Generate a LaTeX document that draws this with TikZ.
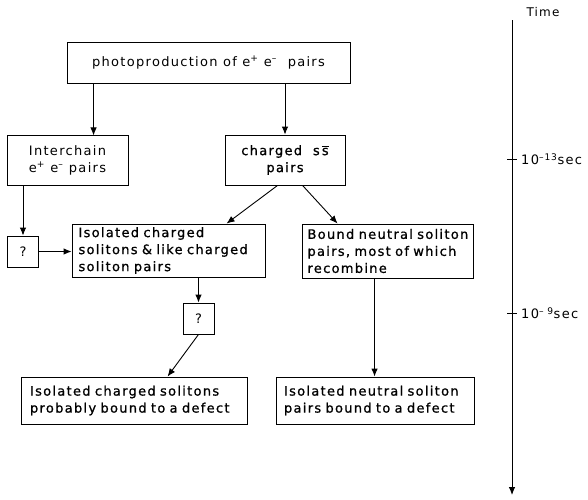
\documentclass[tikz,border=0pt]{standalone}
\usepackage{fontspec}
\setmainfont{DejaVu Sans}[LetterSpace=10]
\newfontfamily\heavy{DejaVu Sans}[LetterSpace=10,FakeBold=0.9]
\usetikzlibrary{arrows.meta,calc}
\begin{document}
\begin{tikzpicture}[x=1pt,y=-1pt,
  box/.style={draw,line width=0.9pt,inner sep=0pt,font=\fontsize{13}{17}\selectfont},
  hbox/.style={box,font=\fontsize{13}{17}\selectfont\heavy},
  qbox/.style={box,minimum width=31pt,minimum height=31pt},
  arr/.style={line width=0.9pt,-{Latex[length=8pt,width=6.5pt]}},
  lab/.style={font=\fontsize{13}{15}\selectfont,inner sep=0pt}]
\useasboundingbox (0,0) rectangle (588,499);
\node[box,minimum width=283pt,minimum height=41pt,align=center] (top) at (208.5,62.5) {photoproduction of e\textsuperscript{+} e\textsuperscript{--}\ \ pairs};
\node[box,minimum width=121pt,minimum height=50pt,align=center] (inter) at (67.5,160) {Interchain\\e\textsuperscript{+} e\textsuperscript{--}\ pairs};
\node[hbox,minimum width=120pt,minimum height=50pt,align=center] (charged) at (285,160) {charged\ \ s\,$\overline{\mbox{s}}$\\pairs};
\node[qbox] (q1) at (23,251.5) {?};
\node[hbox,minimum width=193pt,minimum height=53pt,text width=180pt,align=left] (iso) at (168.5,250.5) {Isolated charged\\solitons \& like charged\\soliton pairs};
\node[hbox,minimum width=171pt,minimum height=54pt,text width=160pt,align=left] (bound) at (387.5,251) {Bound neutral soliton\\pairs, most of which\\recombine};
\node[qbox] (q2) at (198.5,318.5) {?};
\node[hbox,minimum width=226pt,minimum height=47pt,text width=208pt,align=left] (isop) at (134,400.5) {Isolated charged solitons\\probably bound to a defect};
\node[hbox,minimum width=198pt,minimum height=47pt,text width=182pt,align=left] (isn) at (375,400.5) {Isolated neutral soliton\\pairs bound to a defect};
\draw[arr] (top.south -| inter.south west) ++(87,0) -- ++(0,52) coordinate (a1);
\draw[arr] (top.south -| charged) -- (charged.north);
\draw[arr] (inter.south -| q1) -- (q1.north);
\draw[arr] (q1.east) -- (q1.east -| iso.west);
\draw[arr] ($(charged.south west)+(53,0)$) -- ($(iso.north west)+(155,0)$);
\draw[arr] ($(charged.south west)+(78,0)$) -- ($(bound.north west)+(36,0)$);
\draw[arr] (iso.south -| q2) -- (q2.north);
\draw[arr] (q2.south) -- ($(isop.north west)+(147,0)$);
\draw[arr] ($(bound.south west)+(73,0)$) -- ($(isn.north west)+(99,0)$);
\coordinate (ax0) at (512,20);
\coordinate (ax1) at (512,495);
\draw[arr] (ax0) -- (ax1);
\node[lab,font=\fontsize{12}{14}\selectfont] (time) at (543,12) {Time};
\coordinate (t1) at (512,159);
\coordinate (t2) at (512,313);
\draw[line width=0.9pt] ($(t1)+(-5,0)$) -- ($(t1)+(5,0)$);
\draw[line width=0.9pt] ($(t2)+(-5,0)$) -- ($(t2)+(5,0)$);
\node[lab,anchor=west] (l1) at ($(t1)+(9,0)$) {10\textsuperscript{--13}sec};
\node[lab,anchor=west] (l2) at ($(t2)+(9,0)$) {10\textsuperscript{-- 9}sec};
\end{tikzpicture}
\end{document}
